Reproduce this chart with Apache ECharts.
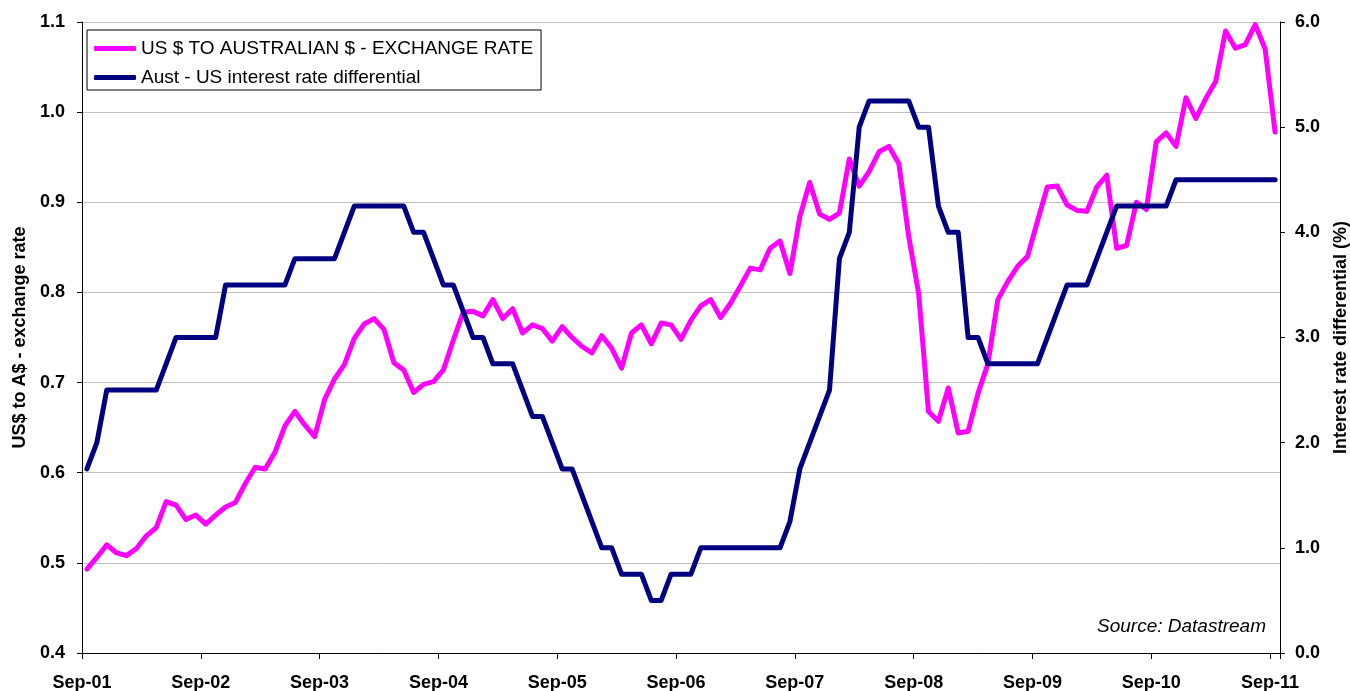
<!DOCTYPE html>
<html>
<head>
<meta charset="utf-8">
<script src="https://cdn.jsdelivr.net/npm/echarts@6/dist/echarts.min.js"></script>
<style>
  html, body { margin: 0; padding: 0; background: #fff; overflow: hidden; }
  #chart { width: 1350px; height: 691px; }
</style>
</head>
<body>
<div id="chart"></div>
<script>
// monthly, Sep-01 .. Sep-11
const tickLabels = ['Sep-01', 'Sep-02', 'Sep-03', 'Sep-04', 'Sep-05', 'Sep-06',
  'Sep-07', 'Sep-08', 'Sep-09', 'Sep-10', 'Sep-11']

const exchangeRate = [
  0.493, 0.506, 0.520, 0.511, 0.508, 0.516, 0.530, 0.539, 0.568, 0.564, 0.548, 0.553,
  0.543, 0.553, 0.562, 0.567, 0.588, 0.606, 0.604, 0.623, 0.652, 0.668, 0.653, 0.640,
  0.681, 0.704, 0.720, 0.749, 0.765, 0.771, 0.759, 0.722, 0.714, 0.689, 0.698, 0.701,
  0.714, 0.747, 0.778, 0.779, 0.774, 0.792, 0.771, 0.782, 0.755, 0.764, 0.760, 0.746,
  0.762, 0.750, 0.740, 0.733, 0.752, 0.738, 0.716, 0.755, 0.764, 0.743, 0.766, 0.764,
  0.748, 0.769, 0.785, 0.792, 0.772, 0.788, 0.807, 0.827, 0.825, 0.849, 0.857, 0.821,
  0.884, 0.922, 0.887, 0.881, 0.888, 0.948, 0.918, 0.934, 0.956, 0.962, 0.943, 0.862,
  0.799, 0.668, 0.657, 0.694, 0.644, 0.646, 0.688, 0.721, 0.792, 0.812, 0.829, 0.840,
  0.879, 0.917, 0.918, 0.897, 0.891, 0.890, 0.917, 0.930, 0.849, 0.852, 0.900, 0.892,
  0.967, 0.977, 0.962, 1.016, 0.993, 1.015, 1.034, 1.090, 1.071, 1.075, 1.097, 1.070,
  0.978,
]

const rateDiff = [
  1.75, 2.0, 2.5, 2.5, 2.5, 2.5, 2.5, 2.5, 2.75, 3.0, 3.0, 3.0,
  3.0, 3.0, 3.5, 3.5, 3.5, 3.5, 3.5, 3.5, 3.5, 3.75, 3.75, 3.75,
  3.75, 3.75, 4.0, 4.25, 4.25, 4.25, 4.25, 4.25, 4.25, 4.0, 4.0, 3.75,
  3.5, 3.5, 3.25, 3.0, 3.0, 2.75, 2.75, 2.75, 2.5, 2.25, 2.25, 2.0,
  1.75, 1.75, 1.5, 1.25, 1.0, 1.0, 0.75, 0.75, 0.75, 0.5, 0.5, 0.75,
  0.75, 0.75, 1.0, 1.0, 1.0, 1.0, 1.0, 1.0, 1.0, 1.0, 1.0, 1.25,
  1.75, 2.0, 2.25, 2.5, 3.75, 4.0, 5.0, 5.25, 5.25, 5.25, 5.25, 5.25,
  5.0, 5.0, 4.25, 4.0, 4.0, 3.0, 3.0, 2.75, 2.75, 2.75, 2.75, 2.75,
  2.75, 3.0, 3.25, 3.5, 3.5, 3.5, 3.75, 4.0, 4.25, 4.25, 4.25, 4.25,
  4.25, 4.25, 4.5, 4.5, 4.5, 4.5, 4.5, 4.5, 4.5, 4.5, 4.5, 4.5,
  4.5,
]

const font = '"Liberation Sans", Arial, sans-serif'

// each month sits in the middle of its slot on the axis
const toPoints = (arr) => arr.map((v, i) => [i + 0.5, v])

const chart = echarts.init(document.getElementById('chart'))

const option = {
  animation: false,
  backgroundColor: '#fff',
  grid: { left: 82, right: 70, top: 22, bottom: 38, outerBoundsMode: 'none' },
  legend: {
    orient: 'vertical',
    left: 87,
    top: 30,
    padding: [9, 8, 3, 7],
    itemGap: 10,
    itemWidth: 42,
    itemHeight: 5,
    icon: 'roundRect',
    borderColor: '#000',
    borderWidth: 1,
    borderRadius: 0,
    textStyle: { fontFamily: font, fontSize: 19, color: '#000' },
    data: ['US $ TO AUSTRALIAN $ - EXCHANGE RATE', 'Aust - US interest rate differential'],
  },
  xAxis: {
    type: 'value',
    min: 0,
    max: 121,
    interval: 12,
    axisLine: { lineStyle: { color: '#000', width: 1 } },
    axisTick: { length: 6, lineStyle: { color: '#000' } },
    splitLine: { show: false },
    axisLabel: {
      margin: 21,
      fontFamily: font,
      fontSize: 18,
      fontWeight: 'bold',
      color: '#000',
      formatter: (v) => (v % 12 === 0 ? tickLabels[v / 12] || '' : ''),
    },
  },
  yAxis: [
    {
      type: 'value',
      min: 0.4,
      max: 1.1,
      interval: 0.1,
      name: 'US$ to A$ - exchange rate',
      nameLocation: 'middle',
      nameGap: 47,
      nameTextStyle: { fontFamily: font, fontSize: 18, fontWeight: 'bold', color: '#000' },
      axisLine: { show: true, lineStyle: { color: '#000', width: 1 } },
      axisTick: { show: true, length: 5, lineStyle: { color: '#000' } },
      splitLine: { lineStyle: { color: '#c0c0c0', width: 1 } },
      axisLabel: {
        margin: 17,
        fontFamily: font,
        fontSize: 18,
        fontWeight: 'bold',
        color: '#000',
        formatter: (v) => v.toFixed(1),
      },
    },
    {
      type: 'value',
      min: 0,
      max: 6,
      interval: 1,
      position: 'right',
      name: 'Interest rate differential (%)',
      nameLocation: 'middle',
      nameGap: 52,
      nameTextStyle: { fontFamily: font, fontSize: 18, fontWeight: 'bold', color: '#000' },
      axisLine: { show: true, lineStyle: { color: '#000', width: 1 } },
      axisTick: { show: true, length: 5, lineStyle: { color: '#000' } },
      splitLine: { show: false },
      axisLabel: {
        margin: 15,
        fontFamily: font,
        fontSize: 18,
        fontWeight: 'bold',
        color: '#000',
        formatter: (v) => v.toFixed(1),
      },
    },
  ],
  graphic: [
    {
      type: 'text',
      right: 84,
      top: 617,
      style: {
        text: 'Source: Datastream',
        font: 'italic 19px "Liberation Sans", Arial, sans-serif',
        fill: '#000',
      },
    },
  ],
  series: [
    {
      name: 'US $ TO AUSTRALIAN $ - EXCHANGE RATE',
      type: 'line',
      yAxisIndex: 0,
      data: toPoints(exchangeRate),
      showSymbol: false,
      color: '#ff00ff',
      lineStyle: { width: 5, color: '#ff00ff', join: 'round', cap: 'round' },
    },
    {
      name: 'Aust - US interest rate differential',
      type: 'line',
      yAxisIndex: 1,
      data: toPoints(rateDiff),
      showSymbol: false,
      color: '#000080',
      lineStyle: { width: 5, color: '#000080', join: 'round', cap: 'round' },
    },
  ],
}

chart.setOption(option)
</script>
</body>
</html>
